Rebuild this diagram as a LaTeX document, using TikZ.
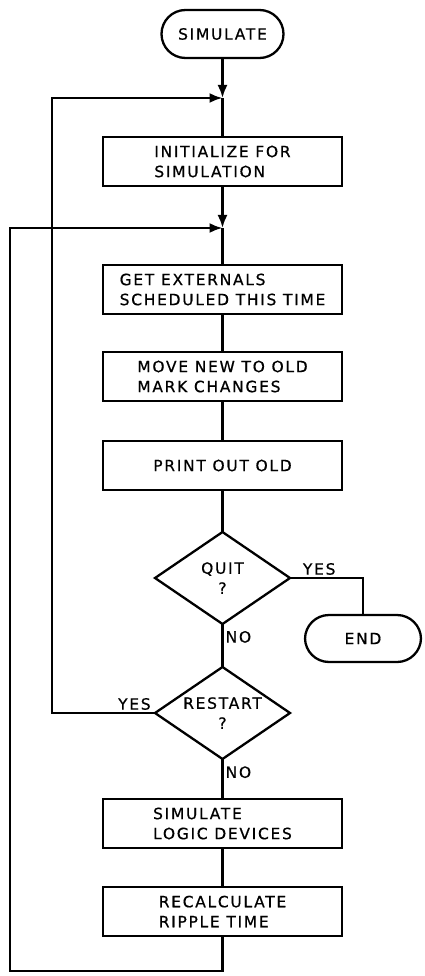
\documentclass[tikz,border=0pt]{standalone}
\usepackage{fontspec}
\setmainfont{DejaVu Sans}[LetterSpace=11, FakeBold=0.6]
\usetikzlibrary{arrows.meta, positioning, shapes.geometric}
\newcommand{\chartfont}{\fontsize{15.5}{20}\selectfont}
\tikzset{
  term/.style={
    draw,
    rectangle,
    rounded corners=24pt,
    minimum height=48pt,
    minimum width=122pt,
    outer sep=0pt,
    align=center,
    font=\chartfont,
  },
  proc/.style={
    draw,
    rectangle,
    minimum height=49pt,
    minimum width=239pt,
    outer sep=0pt,
    align=left,
    font=\chartfont,
  },
  decision/.style={
    draw,
    diamond,
    aspect=1.47,
    inner sep=0pt,
    outer sep=0pt,
    minimum width=135pt,
    minimum height=92pt,
    align=center,
    font=\chartfont,
  },
  lbl/.style={
    font=\chartfont,
    inner sep=2pt
  },
  arrow/.style={
    -{Latex[length=13pt,width=10pt]}
  }
}

\begin{document}
\begin{tikzpicture}[line width=2.3pt]

\useasboundingbox (0,0) rectangle (424pt,-976pt);

% --- Main column ---
\node[term] (start) at (222.5pt,-34pt) {SIMULATE};
\coordinate[below=40pt of start] (j1);
\node[proc, below=39pt of j1] (init) {INITIALIZE FOR\\SIMULATION};
\coordinate[below=42pt of init] (j2);
\node[proc, below=37pt of j2] (getext) {GET EXTERNALS\\SCHEDULED THIS TIME};
\node[proc, below=38pt of getext] (movenew) {MOVE NEW TO OLD\\MARK CHANGES};
\node[proc, below=40pt of movenew] (printold) {PRINT OUT OLD};
\node[decision, below=42pt of printold] (quit) {QUIT\\?};
\node[decision, below=43pt of quit] (restart) {RESTART\\?};
\node[proc, below=40pt of restart] (simlogic) {SIMULATE\\LOGIC DEVICES};
\node[proc, below=39pt of simlogic] (ripple) {RECALCULATE\\RIPPLE TIME};

% --- Exit ---
\node[term, minimum width=116pt, minimum height=47pt,
      below right=37pt and 15pt of quit.east] (finish) {END};

% --- Loop corners ---
\coordinate[below=35pt of ripple] (tail);
\coordinate[left=103pt of restart.west] (backA);
\coordinate[left=212.5pt of tail] (backB);

% --- Connectors ---
\draw[arrow] (start) -- (j1);
\draw (j1) -- (init);
\draw[arrow] (init) -- (j2);
\draw (j2) -- (getext);
\draw (getext) -- (movenew);
\draw (movenew) -- (printold);
\draw (printold) -- (quit);
\draw (quit.east) -| node[lbl, above, pos=0.2] {YES} (finish.north);
\draw (quit) -- node[lbl, right, pos=0.3] {NO} (restart);
\draw (restart) -- node[lbl, right, pos=0.33] {NO} (simlogic);
\draw (simlogic) -- (ripple);

% --- Loops back ---
\draw[arrow] (restart.west) -- node[lbl, above, pos=0.2] {YES} (backA) |- (j1);
\draw[arrow] (ripple) -- (tail) -- (backB) |- (j2);

\end{tikzpicture}
\end{document}
